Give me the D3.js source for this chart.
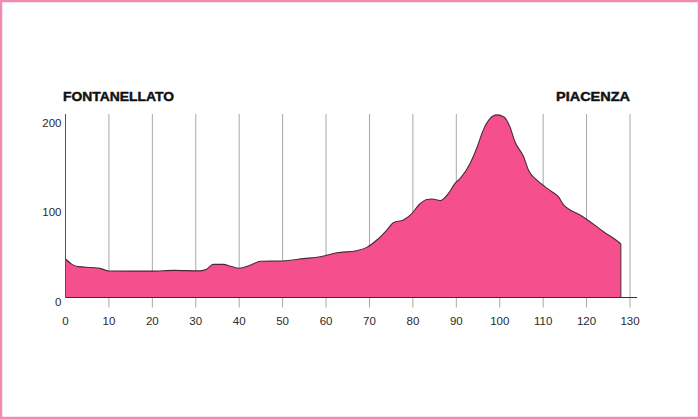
<!DOCTYPE html>
<html>
<head>
<meta charset="utf-8">
<script src="https://cdn.jsdelivr.net/npm/d3@7"></script>
<style>
  html, body { margin: 0; padding: 0; background: #ffffff; }
  svg { display: block; }
</style>
</head>
<body>
<svg id="chart" width="700" height="419"></svg>
<script>
// ---- data ----
const startName = "FONTANELLATO";
const endName = "PIACENZA";
const xTicks = [0, 10, 20, 30, 40, 50, 60, 70, 80, 90, 100, 110, 120, 130];
const yTicks = [0, 100, 200];
const km = [0, 1.5, 3, 6, 8, 10, 15, 20, 25, 31, 32.5, 34, 36.4, 38, 40, 42.5, 45, 50, 54.8, 58.7, 62.5, 67, 69.4, 71.7, 74, 75.5, 77.8, 79.4, 81.7, 83.2, 84.4, 86.3, 88.2, 89.7, 90.9, 93.2, 94.7, 96.2, 97.8, 99.3, 100.9, 102.4, 103.5, 105.5, 106.6, 108.5, 110.4, 112, 113.5, 114.7, 116.2, 118.5, 120.8, 123.9, 127.3, 127.9];
const elevation = [43, 37, 34.5, 33.5, 32.5, 29.6, 29.5, 29.5, 30.3, 29.8, 31.5, 37, 37, 35, 32.6, 36, 40.5, 40.8, 43.4, 45.6, 50, 52.3, 56, 64.2, 75.4, 83.6, 86.6, 92, 105, 109.5, 110, 108.2, 116.4, 127.6, 133, 150, 166.7, 187, 200, 204, 202, 190, 174, 157.3, 142.5, 131.3, 123.8, 118.2, 112.6, 103.4, 97.8, 92.2, 84.7, 73.5, 62.3, 59.8];

// ---- layout ----
const svg = d3.select("#chart");
const W = 700, H = 419;
const x = d3.scaleLinear().domain([0, 130]).range([65.5, 630]);
const y = d3.scaleLinear().domain([0, 205]).range([297.5, 114]);

// frame
svg.append("rect").attr("x", 1).attr("y", 1).attr("width", W - 2).attr("height", H - 2)
  .attr("fill", "#ffffff").attr("stroke", "#f28ab3").attr("stroke-width", 2.5);

// gridlines (extend below axis as ticks)
svg.append("g").selectAll("line").data(xTicks.filter(d => d > 0)).join("line")
  .attr("x1", d => x(d)).attr("x2", d => x(d))
  .attr("y1", y(205)).attr("y2", 307.5)
  .attr("stroke", "#a8a8a8").attr("stroke-width", 1);

// area
const data = km.map((k, i) => ({ k, e: elevation[i] }));
const area = d3.area().x(d => x(d.k)).y0(y(0)).y1(d => y(d.e)).curve(d3.curveMonotoneX);
svg.append("path").datum(data).attr("d", area)
  .attr("fill", "#f5508d").attr("stroke", "none");
const line = d3.line().x(d => x(d.k)).y(d => y(d.e)).curve(d3.curveMonotoneX);
svg.append("path").datum(data).attr("d", line)
  .attr("fill", "none").attr("stroke", "#4a2a35").attr("stroke-width", 1.1);
// right edge of profile
const last = data[data.length - 1];
svg.append("line").attr("x1", x(last.k)).attr("x2", x(last.k))
  .attr("y1", y(last.e)).attr("y2", y(0))
  .attr("stroke", "#4a2a35").attr("stroke-width", 1);

// y axis line
svg.append("line").attr("x1", x(0)).attr("x2", x(0)).attr("y1", y(205)).attr("y2", y(0))
  .attr("stroke", "#555").attr("stroke-width", 1);
// x axis line
svg.append("line").attr("x1", x(0)).attr("x2", 637).attr("y1", y(0)).attr("y2", y(0))
  .attr("stroke", "#333").attr("stroke-width", 1.2);

// tick labels
svg.append("g").selectAll("text").data(xTicks).join("text")
  .attr("x", d => x(d)).attr("y", 322)
  .attr("text-anchor", "middle").attr("dominant-baseline", "middle")
  .attr("font-family", "Liberation Sans, Arial, sans-serif").attr("font-size", 11.5)
  .attr("fill", "#2a2a2a").text(d => d);
svg.append("g").selectAll("text").data(yTicks).join("text")
  .attr("x", 61.5).attr("y", d => y(d) + 5)
  .attr("text-anchor", "end").attr("dominant-baseline", "middle")
  .attr("font-family", "Liberation Sans, Arial, sans-serif").attr("font-size", 11.5)
  .attr("fill", "#2a2a2a").text(d => d);

// place names
svg.append("text").attr("x", 63).attr("y", 97.5)
  .attr("dominant-baseline", "middle")
  .attr("font-family", "Liberation Sans, Arial, sans-serif").attr("font-weight", "bold")
  .attr("font-size", 13.5).attr("fill", "#111").attr("stroke", "#111").attr("stroke-width", 0.45)
  .attr("textLength", 111).attr("lengthAdjust", "spacingAndGlyphs")
  .text(startName);
svg.append("text").attr("x", 630).attr("y", 97.5)
  .attr("text-anchor", "end").attr("dominant-baseline", "middle")
  .attr("font-family", "Liberation Sans, Arial, sans-serif").attr("font-weight", "bold")
  .attr("font-size", 13.5).attr("fill", "#111").attr("stroke", "#111").attr("stroke-width", 0.45)
  .attr("textLength", 74).attr("lengthAdjust", "spacingAndGlyphs")
  .text(endName);
</script>
</body>
</html>
